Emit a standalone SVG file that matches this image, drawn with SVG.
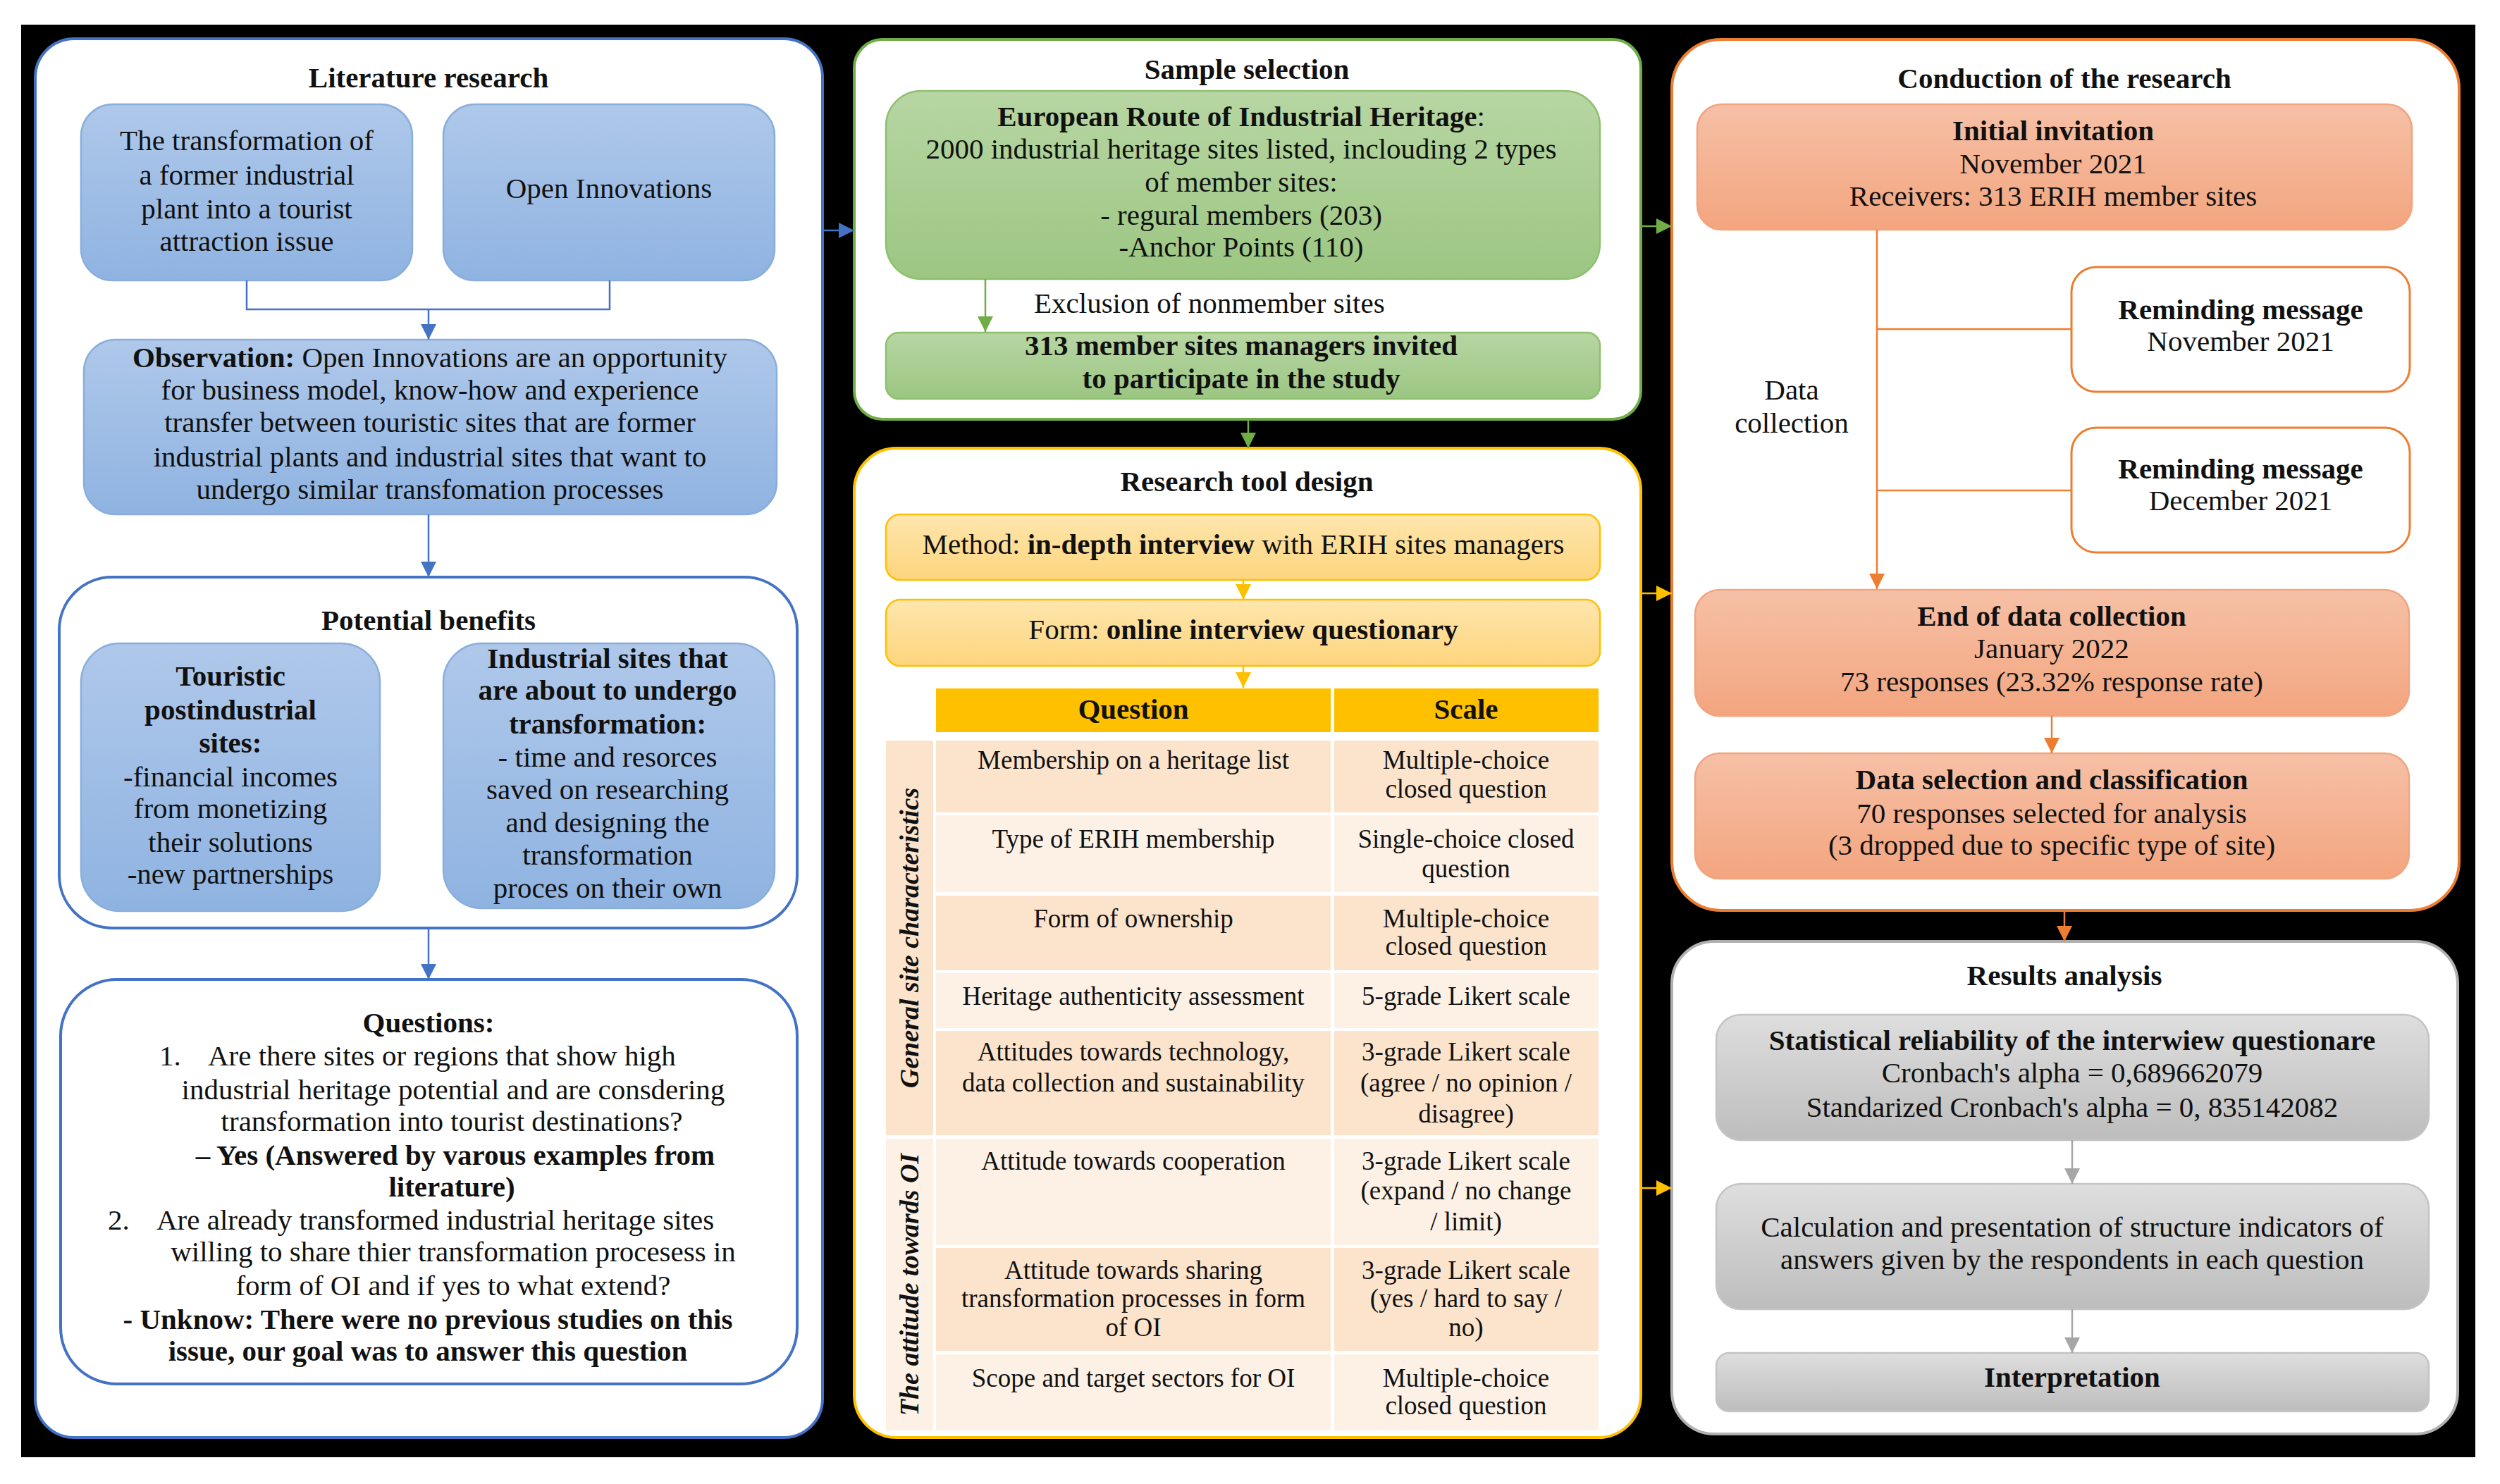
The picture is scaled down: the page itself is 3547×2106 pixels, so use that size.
<svg xmlns="http://www.w3.org/2000/svg" width="3547" height="2106" viewBox="0 0 3547 2106">
<style>
text{font-family:"Liberation Serif","Times New Roman",serif;fill:#111;font-size:41px;text-anchor:middle}
.b{font-weight:bold}
.t{font-size:37px}
.title{font-weight:bold;font-size:41px}
.cat{font-weight:bold;font-style:italic;font-size:38px}
.l{text-anchor:start}
.panel{fill:#fff;stroke-width:4}
.blue{fill:url(#gBlue);stroke:#8aaedc;stroke-width:2.5}
.green{fill:url(#gGreen);stroke:#8dc06d;stroke-width:2.5}
.gold{fill:url(#gGold);stroke:#ffc000;stroke-width:2.5}
.orange{fill:url(#gOrange);stroke:#f2a47f;stroke-width:2.5}
.gray{fill:url(#gGray);stroke:#c4c4c4;stroke-width:2.5}
.pe{fill:#fce4cc}
.li{fill:#fdf1e6}
.hd{fill:#ffc000}
.cb{fill:none;stroke:#4472c4;stroke-width:2.5}
.cg{fill:none;stroke:#70ad47;stroke-width:2.5}
.cy{fill:none;stroke:#ffc000;stroke-width:2.5}
.co{fill:none;stroke:#ed7d31;stroke-width:2.5}
.cgr{fill:none;stroke:#a6a6a6;stroke-width:2.5}
</style>
<defs>
<linearGradient id="gBlue" x1="0" y1="0" x2="0" y2="1"><stop offset="0" stop-color="#afc8ea"/><stop offset="1" stop-color="#8fb3e1"/></linearGradient>
<linearGradient id="gGreen" x1="0" y1="0" x2="0" y2="1"><stop offset="0" stop-color="#b7d6a3"/><stop offset="1" stop-color="#9cc682"/></linearGradient>
<linearGradient id="gGold" x1="0" y1="0" x2="0" y2="1"><stop offset="0" stop-color="#fee6ae"/><stop offset="1" stop-color="#fdd57d"/></linearGradient>
<linearGradient id="gOrange" x1="0" y1="0" x2="0" y2="1"><stop offset="0" stop-color="#f6c0a6"/><stop offset="1" stop-color="#f3a57f"/></linearGradient>
<linearGradient id="gGray" x1="0" y1="0" x2="0" y2="1"><stop offset="0" stop-color="#dedede"/><stop offset="1" stop-color="#bdbdbd"/></linearGradient>
<marker id="aB" markerUnits="userSpaceOnUse" markerWidth="22" markerHeight="22" refX="22" refY="11" orient="auto"><path d="M0,0 L22,11 L0,22 z" fill="#4472c4"/></marker>
<marker id="aG" markerUnits="userSpaceOnUse" markerWidth="22" markerHeight="22" refX="22" refY="11" orient="auto"><path d="M0,0 L22,11 L0,22 z" fill="#70ad47"/></marker>
<marker id="aY" markerUnits="userSpaceOnUse" markerWidth="22" markerHeight="22" refX="22" refY="11" orient="auto"><path d="M0,0 L22,11 L0,22 z" fill="#ffc000"/></marker>
<marker id="aO" markerUnits="userSpaceOnUse" markerWidth="22" markerHeight="22" refX="22" refY="11" orient="auto"><path d="M0,0 L22,11 L0,22 z" fill="#ed7d31"/></marker>
<marker id="aGr" markerUnits="userSpaceOnUse" markerWidth="22" markerHeight="22" refX="22" refY="11" orient="auto"><path d="M0,0 L22,11 L0,22 z" fill="#a6a6a6"/></marker>
</defs>
<rect x="0" y="0" width="3547" height="2106" fill="#fff"/>
<rect x="30" y="35" width="3482" height="2033" fill="#000"/>

<!-- Left column -->
<g id="literature-research">
<rect class="panel" x="50" y="55" width="1117" height="1985" rx="55" stroke="#4472c4"/>
<text class="title" x="608" y="124">Literature research</text>
</g>
<g id="transformation-issue">
<rect class="blue" x="115" y="148" width="470" height="250" rx="45"/>
<text x="350" y="213">The transformation of</text>
<text x="350" y="262">a former industrial</text>
<text x="350" y="310">plant into a tourist</text>
<text x="350" y="356">attraction issue</text>
</g>
<g id="open-innovations">
<rect class="blue" x="629" y="148" width="470" height="250" rx="45"/>
<text x="864" y="281">Open Innovations</text>
</g>
<g id="observation">
<rect class="blue" x="119" y="482" width="983" height="248" rx="45"/>
<text x="610" y="521"><tspan class="b">Observation:</tspan> Open Innovations are an opportunity</text>
<text x="610" y="567">for business model, know-how and experience</text>
<text x="610" y="613">transfer between touristic sites that are former</text>
<text x="610" y="662">industrial plants and industrial sites that want to</text>
<text x="610" y="708">undergo similar transfomation processes</text>
</g>
<g id="potential-benefits">
<rect class="panel" x="84" y="819" width="1047" height="498" rx="75" stroke="#4472c4"/>
<text class="title" x="608" y="894">Potential benefits</text>
</g>
<g id="touristic-sites">
<rect class="blue" x="115" y="913" width="424" height="380" rx="55"/>
<text class="b" x="327" y="973">Touristic</text>
<text class="b" x="327" y="1021">postindustrial</text>
<text class="b" x="327" y="1068">sites:</text>
<text x="327" y="1116">-financial incomes</text>
<text x="327" y="1161">from monetizing</text>
<text x="327" y="1209">their solutions</text>
<text x="327" y="1254">-new partnerships</text>
</g>
<g id="industrial-sites">
<rect class="blue" x="629" y="913" width="470" height="376" rx="55"/>
<text class="b" x="862" y="948">Industrial sites that</text>
<text class="b" x="862" y="993">are about to undergo</text>
<text class="b" x="862" y="1041">transformation:</text>
<text x="862" y="1088">- time and resorces</text>
<text x="862" y="1134">saved on researching</text>
<text x="862" y="1181">and designing the</text>
<text x="862" y="1227">transformation</text>
<text x="862" y="1274">proces on their own</text>
</g>
<g id="questions">
<rect class="panel" x="86" y="1390" width="1045" height="574" rx="80" stroke="#4472c4"/>
<text class="b" x="608" y="1465">Questions:</text>
<text class="l" x="226" y="1512">1.</text>
<text class="l" x="295" y="1512">Are there sites or regions that show high</text>
<text x="643" y="1560">industrial heritage potential and are consdering</text>
<text x="641" y="1605">transformation into tourist destinations?</text>
<text class="b" x="646" y="1653">– Yes (Answered by varous examples from</text>
<text class="b" x="641" y="1698">literature)</text>
<text class="l" x="153" y="1745">2.</text>
<text class="l" x="222" y="1745">Are already transformed industrial heritage sites</text>
<text x="643" y="1790">willing to share thier transformation procesess in</text>
<text x="643" y="1838">form of OI and if yes to what extend?</text>
<text class="b" x="607" y="1886">- Unknow: There were no previous studies on this</text>
<text class="b" x="607" y="1931">issue, our goal was to answer this question</text>
</g>

<!-- Middle column -->
<g id="sample-selection">
<rect class="panel" x="1212" y="56" width="1116" height="539" rx="40" stroke="#70ad47"/>
<text class="title" x="1769" y="112">Sample selection</text>
</g>
<g id="erih">
<rect class="green" x="1257" y="129" width="1013" height="267" rx="50"/>
<text x="1761" y="179"><tspan class="b">European Route of Industrial Heritage</tspan>:</text>
<text x="1761" y="225">2000 industrial heritage sites listed, inclouding 2 types</text>
<text x="1761" y="272">of member sites:</text>
<text x="1761" y="319">- regural members (203)</text>
<text x="1761" y="364">-Anchor Points (110)</text>
</g>
<g id="exclusion-label">
<text class="l" x="1467" y="444">Exclusion of nonmember sites</text>
</g>
<g id="member-managers">
<rect class="green" x="1257" y="472" width="1013" height="94" rx="18"/>
<text class="b" x="1761" y="504">313 member sites managers invited</text>
<text class="b" x="1761" y="551">to participate in the study</text>
</g>
<g id="research-tool-design">
<rect class="panel" x="1212" y="636" width="1116" height="1404" rx="60" stroke="#ffc000"/>
<text class="title" x="1769" y="697">Research tool design</text>
</g>
<g id="method">
<rect class="gold" x="1257" y="730" width="1013" height="93" rx="20"/>
<text x="1764" y="786">Method: <tspan class="b">in-depth interview</tspan> with ERIH sites managers</text>
</g>
<g id="form">
<rect class="gold" x="1257" y="851" width="1013" height="94" rx="20"/>
<text x="1764" y="907">Form: <tspan class="b">online interview questionary</tspan></text>
</g>
<g id="question-table">
<rect class="hd" x="1328" y="977" width="560" height="62"/>
<rect class="hd" x="1893" y="977" width="375" height="62"/>
<text class="b" x="1608" y="1020" font-size="39">Question</text>
<text class="b" x="2080" y="1020" font-size="39">Scale</text>
<rect class="pe" x="1257" y="1051" width="67" height="560"/>
<rect class="li" x="1257" y="1616" width="67" height="414"/>
<text class="cat" transform="translate(1303,1331) rotate(-90)">General site characteristics</text>
<text class="cat" transform="translate(1303,1823) rotate(-90)">The attitude towards OI</text>
<rect class="pe" x="1328" y="1051" width="560" height="102"/><rect class="pe" x="1893" y="1051" width="375" height="102"/>
<rect class="li" x="1328" y="1157" width="560" height="109"/><rect class="li" x="1893" y="1157" width="375" height="109"/>
<rect class="pe" x="1328" y="1271" width="560" height="106"/><rect class="pe" x="1893" y="1271" width="375" height="106"/>
<rect class="li" x="1328" y="1381" width="560" height="78"/><rect class="li" x="1893" y="1381" width="375" height="78"/>
<rect class="pe" x="1328" y="1463" width="560" height="148"/><rect class="pe" x="1893" y="1463" width="375" height="148"/>
<rect class="li" x="1328" y="1616" width="560" height="151"/><rect class="li" x="1893" y="1616" width="375" height="151"/>
<rect class="pe" x="1328" y="1771" width="560" height="146"/><rect class="pe" x="1893" y="1771" width="375" height="146"/>
<rect class="li" x="1328" y="1922" width="560" height="108"/><rect class="li" x="1893" y="1922" width="375" height="108"/>
<text class="t" x="1608" y="1091">Membership on a heritage list</text>
<text class="t" x="2080" y="1091">Multiple-choice</text>
<text class="t" x="2080" y="1132">closed question</text>
<text class="t" x="1608" y="1203">Type of ERIH membership</text>
<text class="t" x="2080" y="1203">Single-choice closed</text>
<text class="t" x="2080" y="1245">question</text>
<text class="t" x="1608" y="1316">Form of ownership</text>
<text class="t" x="2080" y="1316">Multiple-choice</text>
<text class="t" x="2080" y="1355">closed question</text>
<text class="t" x="1608" y="1426">Heritage authenticity assessment</text>
<text class="t" x="2080" y="1426">5-grade Likert scale</text>
<text class="t" x="1608" y="1505">Attitudes towards technology,</text>
<text class="t" x="1608" y="1549">data collection and sustainability</text>
<text class="t" x="2080" y="1505">3-grade Likert scale</text>
<text class="t" x="2080" y="1549">(agree / no opinion /</text>
<text class="t" x="2080" y="1593">disagree)</text>
<text class="t" x="1608" y="1660">Attitude towards cooperation</text>
<text class="t" x="2080" y="1660">3-grade Likert scale</text>
<text class="t" x="2080" y="1702">(expand / no change</text>
<text class="t" x="2080" y="1746">/ limit)</text>
<text class="t" x="1608" y="1815">Attitude towards sharing</text>
<text class="t" x="1608" y="1855">transformation processes in form</text>
<text class="t" x="1608" y="1896">of OI</text>
<text class="t" x="2080" y="1815">3-grade Likert scale</text>
<text class="t" x="2080" y="1855">(yes / hard to say /</text>
<text class="t" x="2080" y="1896">no)</text>
<text class="t" x="1608" y="1968">Scope and target sectors for OI</text>
<text class="t" x="2080" y="1968">Multiple-choice</text>
<text class="t" x="2080" y="2007">closed question</text>
</g>

<!-- Right column -->
<g id="conduction">
<rect class="panel" x="2372" y="56" width="1117" height="1236" rx="70" stroke="#ed7d31"/>
<text class="title" x="2929" y="125">Conduction of the research</text>
</g>
<g id="initial-invitation">
<rect class="orange" x="2408" y="148" width="1014" height="178" rx="35"/>
<text class="b" x="2913" y="199">Initial invitation</text>
<text x="2913" y="246">November 2021</text>
<text x="2913" y="292">Receivers: 313 ERIH member sites</text>
</g>
<g id="reminder-1">
<rect x="2939" y="379" width="480" height="177" rx="35" fill="#fff" stroke="#ed7d31" stroke-width="3"/>
<text class="b" x="3179" y="453">Reminding message</text>
<text x="3179" y="498">November 2021</text>
</g>
<g id="reminder-2">
<rect x="2939" y="607" width="480" height="177" rx="35" fill="#fff" stroke="#ed7d31" stroke-width="3"/>
<text class="b" x="3179" y="679">Reminding message</text>
<text x="3179" y="724">December 2021</text>
</g>
<g id="data-collection-label">
<text x="2542" y="567">Data</text>
<text x="2542" y="614">collection</text>
</g>
<g id="end-of-collection">
<rect class="orange" x="2405" y="837" width="1013" height="179" rx="35"/>
<text class="b" x="2911" y="888">End of data collection</text>
<text x="2911" y="934">January 2022</text>
<text x="2911" y="981">73 responses (23.32% response rate)</text>
</g>
<g id="data-selection">
<rect class="orange" x="2405" y="1069" width="1013" height="178" rx="35"/>
<text class="b" x="2911" y="1120">Data selection and classification</text>
<text x="2911" y="1168">70 responses selected for analysis</text>
<text x="2911" y="1213">(3 dropped due to specific type of site)</text>
</g>
<g id="results-analysis">
<rect class="panel" x="2372" y="1336" width="1115" height="699" rx="60" stroke="#b0b0b0"/>
<text class="title" x="2929" y="1398">Results analysis</text>
</g>
<g id="reliability">
<rect class="gray" x="2435" y="1440" width="1011" height="178" rx="35"/>
<text class="b" x="2940" y="1490">Statistical reliability of the interwiew questionare</text>
<text x="2940" y="1536">Cronbach's alpha = 0,689662079</text>
<text x="2940" y="1585">Standarized Cronbach's alpha = 0, 835142082</text>
</g>
<g id="calculation">
<rect class="gray" x="2435" y="1680" width="1011" height="178" rx="35"/>
<text x="2940" y="1755">Calculation and presentation of structure indicators of</text>
<text x="2940" y="1801">answers given by the respondents in each question</text>
</g>
<g id="interpretation">
<rect class="gray" x="2435" y="1920" width="1011" height="83" rx="18"/>
<text class="b" x="2940" y="1968">Interpretation</text>
</g>

<g id="connectors">
<path class="cb" d="M350,398 V439 H865 V398"/>
<path class="cb" d="M608,439 V482" marker-end="url(#aB)"/>
<path class="cb" d="M608,730 V819" marker-end="url(#aB)"/>
<path class="cb" d="M608,1317 V1390" marker-end="url(#aB)"/>
<path class="cb" d="M1167,327 H1212" marker-end="url(#aB)"/>
<path class="cg" d="M1398,396 V471" marker-end="url(#aG)"/>
<path class="cg" d="M1771,595 V636" marker-end="url(#aG)"/>
<path class="cg" d="M2328,321 H2372" marker-end="url(#aG)"/>
<path class="cy" d="M1764,823 V851" marker-end="url(#aY)"/>
<path class="cy" d="M1764,945 V976" marker-end="url(#aY)"/>
<path class="cy" d="M2328,842 H2372" marker-end="url(#aY)"/>
<path class="cy" d="M2328,1686 H2372" marker-end="url(#aY)"/>
<path class="co" d="M2663,326 V836" marker-end="url(#aO)"/>
<path class="co" d="M2663,467 H2939"/>
<path class="co" d="M2663,696 H2939"/>
<path class="co" d="M2911,1016 V1069" marker-end="url(#aO)"/>
<path class="co" d="M2929,1292 V1336" marker-end="url(#aO)"/>
<path class="cgr" d="M2940,1618 V1680" marker-end="url(#aGr)"/>
<path class="cgr" d="M2940,1858 V1920" marker-end="url(#aGr)"/>
</g>
</svg>
